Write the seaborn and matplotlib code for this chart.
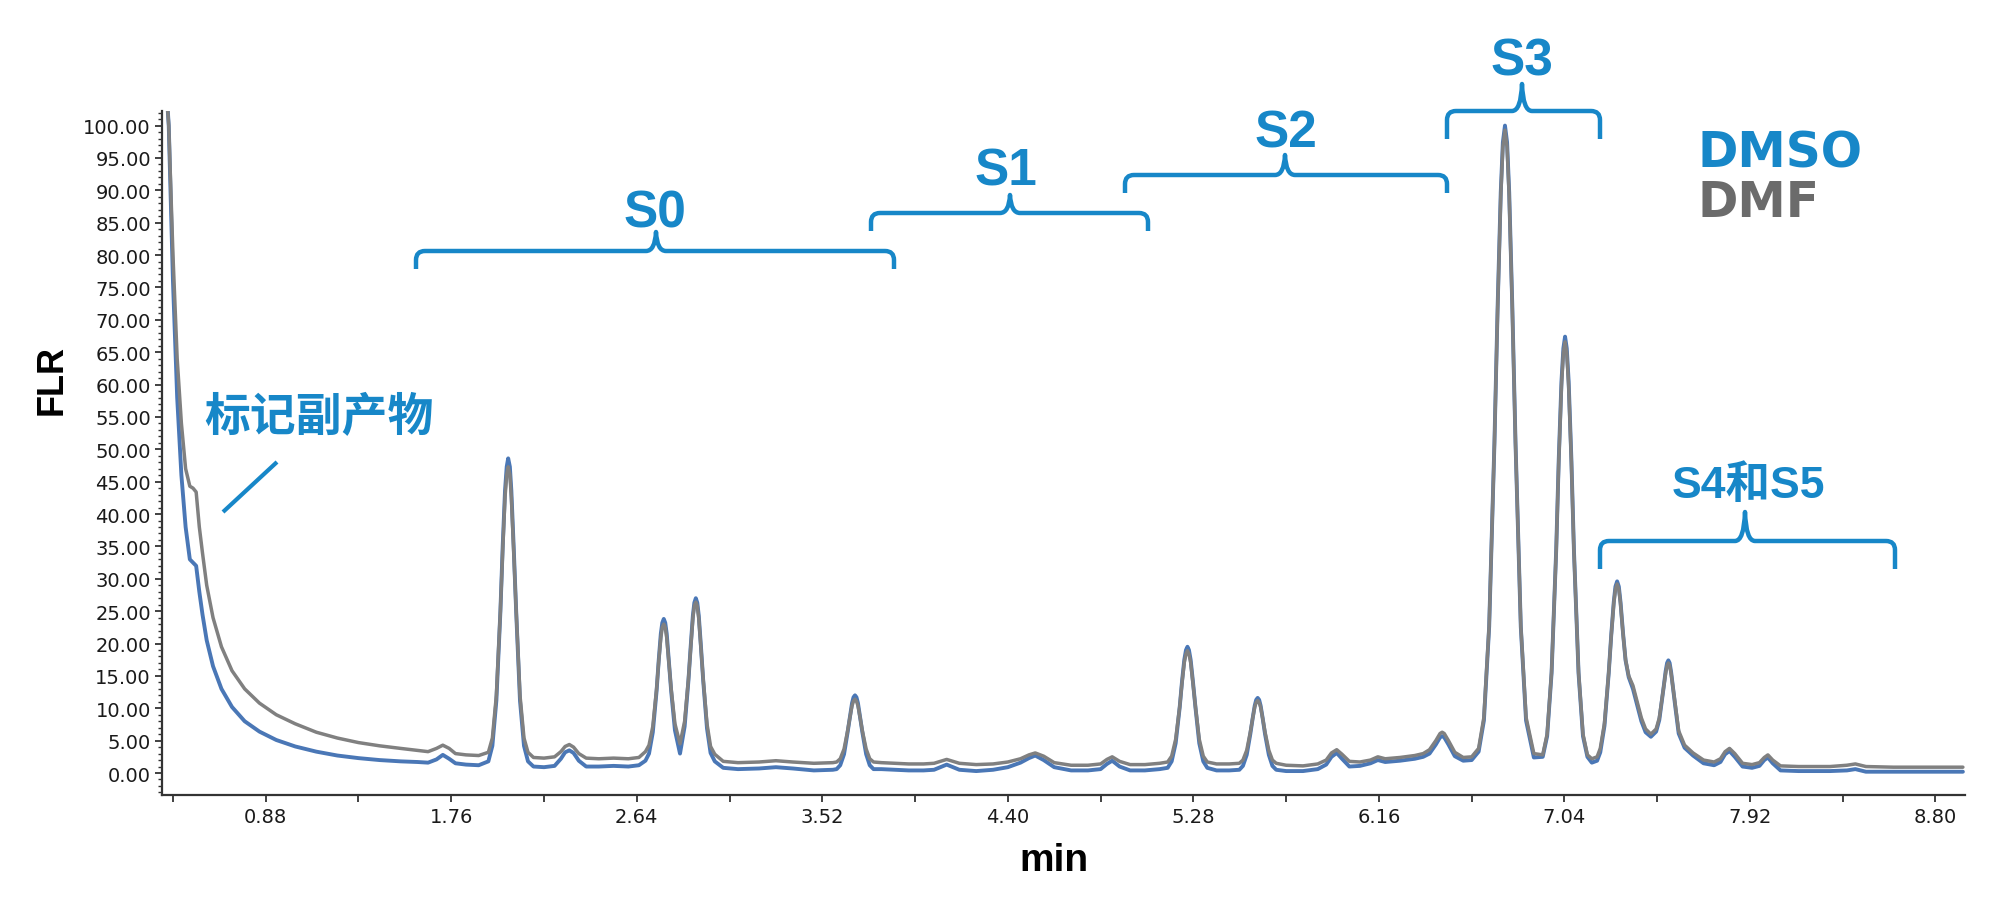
import matplotlib
matplotlib.use("Agg")
import matplotlib.pyplot as plt
from matplotlib.path import Path
from matplotlib.patches import PathPatch
from matplotlib.ticker import MultipleLocator, FormatStrFormatter
import pandas as pd
import seaborn as sns

# ---------------- data ----------------
time_min = [0.40, 0.42, 0.44, 0.46, 0.48, 0.50, 0.52, 0.535, 0.55, 0.565, 0.58, 0.60, 0.63, 0.67, 0.72, 0.78,
            0.85, 0.93, 1.02, 1.12, 1.22, 1.32, 1.42, 1.52, 1.60, 1.65, 1.69, 1.72, 1.75, 1.78, 1.83, 1.89,
            1.936, 1.955, 1.974, 1.993, 2.004, 2.015, 2.023, 2.030, 2.038, 2.045, 2.056, 2.068, 2.086, 2.105, 2.124,
            2.15, 2.20, 2.25, 2.28, 2.30, 2.32, 2.34, 2.365, 2.40, 2.46, 2.53, 2.60, 2.65,
            2.681, 2.698, 2.716, 2.734, 2.744, 2.754, 2.761, 2.768, 2.775, 2.782, 2.792, 2.803, 2.821, 2.845,
            2.867, 2.885, 2.896, 2.906, 2.913, 2.920, 2.927, 2.934, 2.944, 2.955, 2.973, 2.990, 3.010,
            3.05, 3.12, 3.22, 3.30, 3.38, 3.48, 3.57,
            3.588, 3.605, 3.623, 3.640, 3.651, 3.661, 3.668, 3.675, 3.682, 3.689, 3.699, 3.710, 3.728, 3.745, 3.763,
            3.80, 3.86, 3.93, 4.00,
            4.05, 4.11, 4.17, 4.25, 4.33, 4.40, 4.46, 4.50, 4.53, 4.57, 4.62, 4.70, 4.78, 4.84, 4.87, 4.895,
            4.93, 4.98, 5.05, 5.12,
            5.158, 5.177, 5.196, 5.215, 5.226, 5.237, 5.245, 5.252, 5.259, 5.267, 5.278, 5.290, 5.308, 5.327, 5.346,
            5.39, 5.45,
            5.498, 5.515, 5.533, 5.550, 5.561, 5.571, 5.578, 5.585, 5.592, 5.599, 5.609, 5.620, 5.638, 5.655, 5.673,
            5.72, 5.80, 5.87,
            5.91, 5.935, 5.96, 5.985, 6.02, 6.07, 6.12, 6.155, 6.19, 6.26, 6.33, 6.37,
            6.40, 6.43, 6.45, 6.46, 6.47, 6.49, 6.52, 6.56, 6.60,
            6.633, 6.658, 6.683, 6.708, 6.723, 6.738, 6.748, 6.758, 6.768, 6.778, 6.793, 6.808, 6.833, 6.858,
            6.895,
            6.937, 6.958, 6.979, 7.001, 7.013, 7.026, 7.035, 7.043, 7.051, 7.060, 7.073, 7.085, 7.107, 7.128, 7.149,
            7.17,
            7.195, 7.210, 7.230, 7.250, 7.262, 7.274, 7.282, 7.290, 7.298, 7.306, 7.318, 7.330, 7.345, 7.365,
            7.385, 7.405, 7.425,
            7.450, 7.475, 7.490, 7.501, 7.510, 7.520, 7.527, 7.533, 7.539, 7.546, 7.556, 7.566, 7.582, 7.610,
            7.650, 7.700, 7.750,
            7.780, 7.802, 7.823, 7.848, 7.885, 7.930, 7.965, 7.988, 8.005, 8.028, 8.065, 8.150, 8.300,
            8.380, 8.420, 8.470, 8.600, 8.750, 8.930]

dmf_flr = [110, 100, 80, 64, 54, 47, 44.3, 44.0, 43.4, 38, 34, 29, 24, 19.5, 15.8, 13.0,
           10.8, 9.0, 7.6, 6.3, 5.4, 4.7, 4.2, 3.8, 3.5, 3.3, 3.8, 4.3, 3.8, 3.0, 2.8, 2.7,
           3.2, 5.4, 12.0, 25.0, 34.4, 42.6, 46.1, 47.3, 46.1, 42.6, 34.4, 25.0, 12.0, 5.4, 3.2,
           2.4, 2.3, 2.5, 3.3, 4.1, 4.4, 4.0, 3.0, 2.3, 2.2, 2.3, 2.2, 2.4,
           3.3, 4.3, 7.2, 13.0, 17.2, 20.9, 22.5, 23.0, 22.5, 20.9, 17.2, 13.0, 7.6, 4.5,
           8.0, 14.5, 19.5, 23.9, 25.8, 26.4, 25.8, 23.9, 19.5, 14.5, 7.6, 4.1, 2.9,
           1.8, 1.6, 1.7, 1.9, 1.7, 1.5, 1.6,
           1.7, 2.2, 3.7, 6.5, 8.6, 10.4, 11.1, 11.4, 11.1, 10.4, 8.6, 6.5, 3.7, 2.2, 1.7,
           1.6, 1.5, 1.4, 1.4,
           1.5, 2.1, 1.5, 1.3, 1.4, 1.7, 2.2, 2.8, 3.1, 2.6, 1.6, 1.2, 1.2, 1.4, 2.1, 2.5,
           1.8, 1.3, 1.3, 1.5,
           1.7, 2.6, 5.2, 10.2, 13.9, 17.1, 18.4, 18.9, 18.4, 17.1, 13.9, 10.2, 5.2, 2.6, 1.7,
           1.4, 1.4,
           1.5, 2.0, 3.5, 6.3, 8.4, 10.2, 10.9, 11.2, 10.9, 10.2, 8.4, 6.3, 3.5, 2.0, 1.5,
           1.2, 1.1, 1.4,
           2.0, 3.1, 3.6, 2.9, 1.8, 1.7, 2.0, 2.5, 2.2, 2.4, 2.7, 3.0,
           3.6, 5.0, 6.1, 6.3, 6.1, 5.0, 3.2, 2.4, 2.5,
           3.8, 8.6, 22.8, 50.9, 71.4, 89.1, 96.7, 99.3, 96.7, 89.1, 71.4, 50.9, 22.8, 8.6,
           3.0,
           2.8, 6.0, 15.6, 34.3, 48.0, 59.8, 64.9, 66.6, 64.9, 59.8, 48.0, 34.3, 15.6, 6.0, 2.8,
           2.2,
           2.5, 3.8, 7.7, 15.5, 21.2, 26.2, 28.4, 29.2, 28.4, 26.2, 21.5, 17.5, 15.0, 13.5,
           11.0, 8.5, 6.8,
           6.0, 6.8, 8.5, 11.0, 13.0, 15.4, 16.6, 17.0, 16.6, 15.4, 13.0, 10.5, 6.5, 4.3,
           3.1, 2.0, 1.7,
           2.2, 3.3, 3.8, 3.0, 1.5, 1.3, 1.6, 2.4, 2.8, 2.0, 1.1, 1.0, 1.0,
           1.2, 1.4, 1.0, 0.9, 0.9, 0.9]

dmso_flr = [110, 100, 76, 58, 46, 38, 33, 32.5, 32, 28, 24.5, 20.5, 16.5, 13, 10.2, 8.0,
            6.4, 5.1, 4.1, 3.3, 2.7, 2.3, 2.0, 1.8, 1.7, 1.6, 2.1, 2.8, 2.2, 1.5, 1.3, 1.2,
            1.8, 4.2, 11.2, 24.9, 35.0, 43.6, 47.3, 48.6, 47.3, 43.6, 35.0, 24.9, 11.2, 4.2, 1.8,
            1.0, 0.9, 1.1, 2.2, 3.2, 3.5, 3.1, 1.9, 1.0, 1.0, 1.1, 1.0, 1.2,
            1.9, 3.0, 6.3, 12.7, 17.4, 21.5, 23.2, 23.8, 23.2, 21.5, 17.4, 12.7, 6.6, 3.0,
            7.2, 14.3, 19.7, 24.3, 26.3, 27.0, 26.3, 24.3, 19.7, 14.3, 6.9, 3.1, 1.8,
            0.8, 0.6, 0.7, 0.9, 0.7, 0.4, 0.5,
            0.6, 1.2, 2.9, 6.3, 8.7, 10.8, 11.7, 12.0, 11.7, 10.8, 8.7, 6.3, 2.9, 1.2, 0.6,
            0.6, 0.5, 0.4, 0.4,
            0.5, 1.3, 0.5, 0.3, 0.5, 0.9, 1.6, 2.3, 2.7, 2.0, 0.9, 0.4, 0.4, 0.6, 1.4, 1.9,
            1.0, 0.4, 0.4, 0.6,
            0.8, 1.8, 4.6, 10.1, 14.1, 17.5, 19.0, 19.5, 19.0, 17.5, 14.1, 10.1, 4.6, 1.8, 0.8,
            0.4, 0.4,
            0.5, 1.1, 2.8, 6.0, 8.4, 10.4, 11.3, 11.6, 11.3, 10.4, 8.4, 6.0, 2.8, 1.1, 0.5,
            0.3, 0.3, 0.6,
            1.3, 2.5, 3.1, 2.2, 1.0, 1.1, 1.5, 2.0, 1.7, 1.9, 2.2, 2.5,
            3.0, 4.4, 5.5, 5.7, 5.5, 4.4, 2.6, 1.9, 2.0,
            3.3, 8.1, 22.6, 51.0, 71.8, 89.7, 97.4, 100.0, 97.4, 89.7, 71.8, 51.0, 22.6, 8.1,
            2.4,
            2.5, 5.7, 15.4, 34.5, 48.4, 60.5, 65.6, 67.4, 65.6, 60.5, 48.4, 34.5, 15.4, 5.7, 2.5,
            1.6,
            1.9, 3.2, 7.3, 15.4, 21.3, 26.4, 28.8, 29.6, 28.8, 26.4, 21.6, 17.4, 14.8, 13.0,
            10.5, 8.0, 6.3,
            5.6, 6.4, 8.2, 10.9, 13.1, 15.7, 17.0, 17.4, 17.0, 15.6, 12.9, 10.2, 6.1, 3.9,
            2.7, 1.5, 1.2,
            1.7, 2.9, 3.4, 2.5, 1.0, 0.8, 1.1, 2.0, 2.4, 1.5, 0.4, 0.3, 0.3,
            0.4, 0.6, 0.2, 0.2, 0.2, 0.2]

x_tick_values = [0.88, 1.76, 2.64, 3.52, 4.40, 5.28, 6.16, 7.04, 7.92, 8.80]
region_labels = ["S0", "S1", "S2", "S3", "S4和S5"]
series_labels = ["DMSO", "DMF"]
byproduct_label = "标记副产物"

# ---------------- style ----------------
sns.set_theme(style="ticks")
plt.rcParams["font.family"] = ["DejaVu Sans", "Noto Sans CJK SC"]

BLUE_LINE = "#4A77B6"
GRAY_LINE = "#808080"
ANN_BLUE = "#1787C8"
ANN_GRAY = "#6B6B6B"

W, H = 2000, 903
fig = plt.figure(figsize=(W / 100, H / 100), dpi=100)
fig.patch.set_facecolor("white")
ax = fig.add_axes([162 / W, 1 - 795.7 / H, (1965 - 162) / W, (795.7 - 111.7) / H])
ax.set_facecolor("white")

df = pd.DataFrame({"time": time_min, "DMSO": dmso_flr, "DMF": dmf_flr})
sns.lineplot(data=df, x="time", y="DMSO", ax=ax, color=BLUE_LINE, lw=2.8,
             estimator=None, sort=False)
sns.lineplot(data=df, x="time", y="DMF", ax=ax, color=GRAY_LINE, lw=2.5,
             estimator=None, sort=False)

ax.set_xlim(0.388, 8.94)
ax.set_ylim(-3.35, 102.3)

ax.set_xticks(x_tick_values)
ax.set_xticklabels([f"{v:.2f}" for v in x_tick_values])
ax.xaxis.set_minor_locator(MultipleLocator(0.44))
ax.yaxis.set_major_locator(MultipleLocator(5))
ax.yaxis.set_major_formatter(FormatStrFormatter("%.2f"))
ax.yaxis.set_minor_locator(MultipleLocator(1))

ax.tick_params(axis="x", which="both", length=5, width=1.3, color="#333333",
               labelsize=14, labelcolor="#1a1a1a", pad=4)
ax.tick_params(axis="y", which="major", length=5, width=1.3, color="#333333",
               labelsize=14, labelcolor="#1a1a1a", pad=3)
ax.tick_params(axis="y", which="minor", length=3, width=1.0, color="#333333")

for s in ["top", "right"]:
    ax.spines[s].set_visible(False)
for s in ["left", "bottom"]:
    ax.spines[s].set_linewidth(1.6)
    ax.spines[s].set_color("#333333")

ax.set_ylabel("FLR", fontsize=26, fontweight="bold", family="Liberation Sans", color="black")
ax.yaxis.set_label_coords((52 - 162) / 1803, (795.7 - 380) / 684)
ax.yaxis.label.set_verticalalignment("center")
ax.set_xlabel("min", fontsize=28, fontweight="bold", family="Liberation Sans", color="black")
ax.xaxis.set_label_coords((1054 - 162) / 1803, (795.7 - 861) / 684)
ax.xaxis.label.set_verticalalignment("center")

# ---------------- annotations (overlay in pixel space) ----------------
ov = fig.add_axes([0, 0, 1, 1])
ov.set_xlim(0, W)
ov.set_ylim(H, 0)
ov.axis("off")
ov.patch.set_alpha(0)


def bracket(x0, x1, y, yend, xm, ytip, color=ANN_BLUE, lw=3.2):
    r = 9
    verts = [(x0, yend), (x0, y + r), (x0, y), (x0 + r, y),
             (xm - 10, y), (xm - 1, y), (xm, ytip), (xm + 1, y), (xm + 10, y),
             (x1 - r, y), (x1, y), (x1, y + r), (x1, yend)]
    codes = [Path.MOVETO, Path.LINETO, Path.CURVE3, Path.CURVE3,
             Path.LINETO, Path.CURVE3, Path.CURVE3, Path.CURVE3, Path.CURVE3,
             Path.LINETO, Path.CURVE3, Path.CURVE3, Path.LINETO]
    ov.add_patch(PathPatch(Path(verts, codes), fill=False, ec=color, lw=lw,
                           capstyle="butt", joinstyle="round"))


ann_font = ["Liberation Sans", "Noto Sans CJK SC"]

brackets = [
    (416, 894, 252, 270, 656, 233, 655, 228, 37),
    (871, 1148, 214, 232, 1010, 196, 1006, 186, 37),
    (1125, 1447, 176, 194, 1285, 156, 1286, 147, 37),
    (1447, 1600, 112, 140, 1522, 85, 1522, 75, 37),
    (1600, 1895, 542, 570, 1745, 513, 1748, 498, 32),
]
for lab, (x0, x1, y, ye, xm, yt, tx, ty, fs) in zip(region_labels, brackets):
    bracket(x0, x1, y, ye, xm, yt)
    ov.text(tx, ty, lab, ha="center", va="baseline", fontsize=fs, fontweight="bold",
            color=ANN_BLUE, family=ann_font)

ov.text(1697, 168, series_labels[0], ha="left", va="baseline", fontsize=35,
        fontweight="bold", color=ANN_BLUE, family="DejaVu Sans")
ov.text(1697, 217, series_labels[1], ha="left", va="baseline", fontsize=35,
        fontweight="bold", color=ANN_GRAY, family="DejaVu Sans")

ov.text(204, 418, byproduct_label, ha="left", va="center", fontsize=33,
        fontweight="bold", color=ANN_BLUE, family=["Noto Sans CJK SC", "DejaVu Sans"])
ov.plot([277, 223], [463, 513], color=ANN_BLUE, lw=3.0, solid_capstyle="butt")

fig.savefig("out.png", dpi=100, facecolor="white")
